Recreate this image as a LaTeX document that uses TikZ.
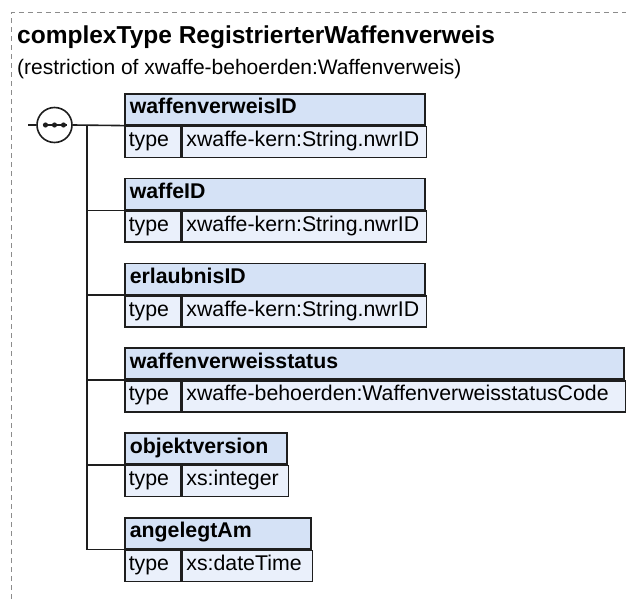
\documentclass[tikz,border=0pt]{standalone}
\usepackage{fontspec}
\setmainfont{Liberation Sans}
\usetikzlibrary{positioning}
\definecolor{xhead}{HTML}{D5E2F6}
\definecolor{xrow}{HTML}{EAF0FB}
\definecolor{xline}{HTML}{1E1E1E}
\definecolor{xdash}{HTML}{8C8C8C}
\tikzset{
  hdr/.style={draw=xline,fill=xhead,line width=1.6pt,anchor=north west,align=left,font=\bfseries\fontsize{21.3}{25}\selectfont,inner xsep=5pt,inner ysep=6pt,text height=14pt,text depth=5pt},
  tcell/.style={draw=xline,fill=xrow,line width=1.6pt,anchor=north west,align=left,font=\fontsize{21.3}{25}\selectfont,inner xsep=4pt,inner ysep=6pt,text height=14pt,text depth=5pt,text width=48pt},
  tval/.style={draw=xline,fill=xrow,line width=1.6pt,anchor=north west,align=left,font=\fontsize{21.3}{25}\selectfont,inner xsep=4pt,inner ysep=6pt,text height=14pt,text depth=5pt},
  conn/.style={draw=xline,line width=1.6pt},
  seqc/.style={circle,draw=xline,fill=white,line width=1.6pt,minimum size=35pt,inner sep=0pt},
}
\begin{document}
\begin{tikzpicture}[x=1pt,y=1pt]
\useasboundingbox (0,0) rectangle (626,-599);
\draw[xdash,dash pattern=on 5pt off 4pt,line width=1pt] (11,-599) -- (11,-13) -- (626,-13);
\node[anchor=base west,inner sep=0pt,font=\bfseries\fontsize{24.5}{29}\selectfont] (title) at (17,-44) {complexType RegistrierterWaffenverweis};
\node[anchor=base west,inner sep=0pt,font=\fontsize{21}{25}\selectfont] (sub) at (17,-75) {(restriction of xwaffe-behoerden:Waffenverweis)};
% sequence compositor
\coordinate (in) at (28,-125);
\coordinate (trunk) at (87,-125);
\node[seqc] (seq) at (54.5,-125) {};
\draw[conn] ([xshift=-12pt]seq.center) -- ([xshift=12pt]seq.center);
\foreach \dx in {-9,0,9} \fill[xline] ([xshift=\dx pt]seq.center) circle (2.6pt);
% elements
\foreach \nm/\ty/\w [count=\i] in {waffenverweisID/xwaffe-kern:String.nwrID/300,
    waffeID/xwaffe-kern:String.nwrID/300,
    erlaubnisID/xwaffe-kern:String.nwrID/300,
    waffenverweisstatus/xwaffe-behoerden:WaffenverweisstatusCode/499,
    objektversion/xs:integer/162,
    angelegtAm/xs:dateTime/186}{
  \pgfmathsetmacro\hw{\w-10}
  \pgfmathsetmacro\vw{\w-64}
  \node[hdr,text width=\hw pt] (h\i) at (124,-93-84.8*\i+84.8) {\nm};
  \node[tcell] (t\i) at (h\i.south west) {type};
  \node[tval,text width=\vw pt] (v\i) at (t\i.north east) {\ty};
  \draw[conn] (h\i.south west -| trunk) -- (h\i.south west);
}
\draw[conn] (in) -- (seq.west);
\draw[conn] (seq.east) -- (h1.south west);
\draw[conn] (trunk) -- (h6.south west -| trunk);
\end{tikzpicture}
\end{document}
